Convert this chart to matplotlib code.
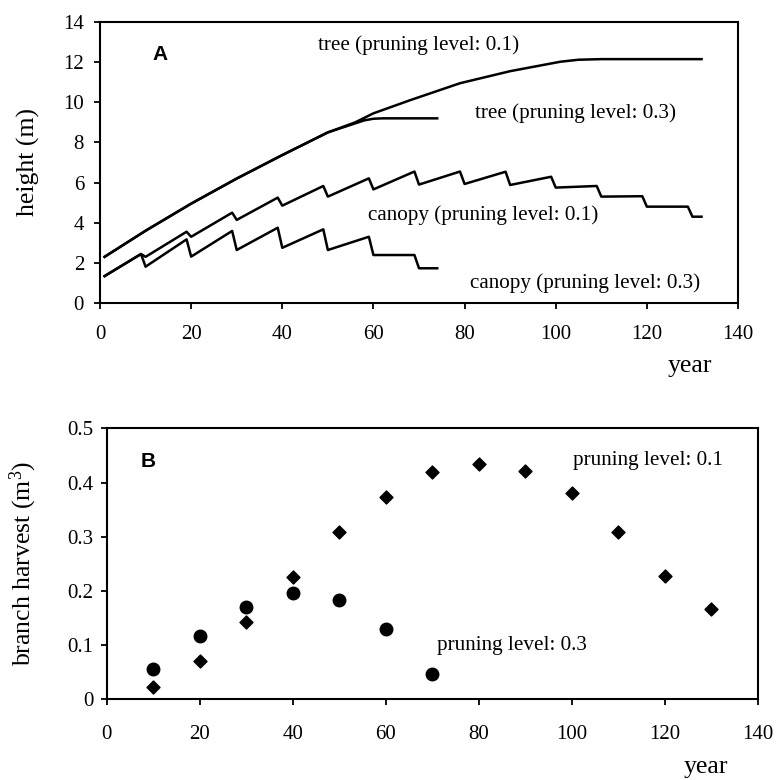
import matplotlib
matplotlib.use("Agg")
import matplotlib.pyplot as plt

plt.rcParams['font.family'] = ['Liberation Serif', 'DejaVu Serif']
plt.rcParams['mathtext.fontset'] = 'custom'
plt.rcParams['mathtext.rm'] = 'Liberation Serif'
plt.rcParams['mathtext.it'] = 'Liberation Serif:italic'

# ---- Panel A data ----
tree01_x = [1, 10, 20, 30, 40, 50, 56, 60, 68, 79, 90, 101, 105, 110, 132]
tree01_y = [2.3, 3.6, 4.95, 6.2, 7.37, 8.5, 9.0, 9.45, 10.1, 10.95, 11.55, 12.02, 12.12, 12.15, 12.15]

tree03_x = [1, 10, 20, 30, 40, 50, 56, 58, 60, 62, 74]
tree03_y = [2.3, 3.6, 4.95, 6.2, 7.37, 8.5, 8.95, 9.1, 9.18, 9.2, 9.2]

canopy01_x = [1, 9, 10, 19, 20, 29, 30, 39, 40, 49, 50, 59, 60, 69, 70, 79, 80,
              89, 90, 99, 100, 109, 110, 119, 120, 129, 130, 132]
canopy01_y = [1.34, 2.44, 2.3, 3.55, 3.3, 4.5, 4.14, 5.25, 4.85, 5.83, 5.3, 6.21, 5.66,
              6.55, 5.9, 6.55, 5.93, 6.54, 5.88, 6.29, 5.75, 5.83, 5.3, 5.32, 4.8,
              4.8, 4.3, 4.3]

canopy03_x = [1, 9, 10, 19, 20, 29, 30, 39, 40, 49, 50, 59, 60, 69, 70, 74]
canopy03_y = [1.34, 2.44, 1.81, 3.17, 2.31, 3.59, 2.64, 3.75, 2.75, 3.67, 2.64, 3.3,
              2.39, 2.39, 1.73, 1.73]

# ---- Panel B data ----
harvest01_x = [10, 20, 30, 40, 50, 60, 70, 80, 90, 100, 110, 120, 130]
harvest01_y = [0.023, 0.070, 0.142, 0.225, 0.308, 0.374, 0.419, 0.435, 0.422, 0.380,
               0.309, 0.228, 0.166]

harvest03_x = [10, 20, 30, 40, 50, 60, 70]
harvest03_y = [0.055, 0.117, 0.170, 0.196, 0.183, 0.129, 0.047]

xticks = [0, 20, 40, 60, 80, 100, 120, 140]
yticksA = [0, 2, 4, 6, 8, 10, 12, 14]
yticksB = [0, 0.1, 0.2, 0.3, 0.4, 0.5]
yticklabelsB = ['0', '0.1', '0.2', '0.3', '0.4', '0.5']

fig = plt.figure(figsize=(7.76, 7.80), dpi=100)

tick_fs = 15
ann_fs = 15.2
lab_fs = 18.5

def style(ax):
    for s in ax.spines.values():
        s.set_linewidth(1.5)
        s.set_color('black')
    ax.tick_params(direction='out', length=4.5, width=1.3, labelsize=tick_fs,
                   top=False, right=False)

# Panel A
axA = fig.add_axes([100/776, (780-303)/780, 638/776, 281/780])
lw = 1.8
axA.plot(tree01_x, tree01_y, color='black', lw=lw)
axA.plot(tree03_x, tree03_y, color='black', lw=lw)
axA.plot(canopy01_x, canopy01_y, color='black', lw=lw)
axA.plot(canopy03_x, canopy03_y, color='black', lw=lw)
axA.set_xlim(0, 140)
axA.set_ylim(0, 14)
axA.set_xticks(xticks)
axA.set_yticks(yticksA)
style(axA)
axA.tick_params(axis='x', pad=11)
axA.tick_params(axis='y', pad=7)
axA.set_ylabel('height (m)', fontsize=lab_fs)
axA.yaxis.set_label_coords(-0.094, 0.5)
axA.text(47.8, 12.85, 'tree (pruning level: 0.1)', fontsize=ann_fs, va='center', ha='left')
axA.text(82.3, 9.47, 'tree (pruning level: 0.3)', fontsize=ann_fs, va='center', ha='left')
axA.text(58.8, 4.38, 'canopy (pruning level: 0.1)', fontsize=ann_fs, va='center', ha='left')
axA.text(81.2, 1.0, 'canopy (pruning level: 0.3)', fontsize=ann_fs, va='center', ha='left')
axA.text(11.6, 12.4, 'A', fontsize=15, fontweight='bold', family='Liberation Sans',
         va='center', ha='left')
fig.text(712/776, 1 - 366/780, 'year', fontsize=lab_fs, ha='right', va='center')

# Panel B
axB = fig.add_axes([106.7/776, (780-699.3)/780, 651/776, 271/780])
axB.scatter(harvest01_x, harvest01_y, marker='D', s=(6.6)**2, color='black', zorder=3)
axB.scatter(harvest03_x, harvest03_y, marker='o', s=(9.0)**2, color='black', zorder=3)
axB.set_xlim(0, 140)
axB.set_ylim(0, 0.5)
axB.set_xticks(xticks)
axB.set_yticks(yticksB)
axB.set_yticklabels(yticklabelsB)
style(axB)
axB.tick_params(axis='x', pad=14)
axB.tick_params(axis='y', pad=5)
axB.set_ylabel('branch harvest (m$^3$)', fontsize=lab_fs)
axB.yaxis.set_label_coords(-0.104, 0.5)
axB.text(100.3, 0.44, 'pruning level: 0.1', fontsize=ann_fs, va='center', ha='left')
axB.text(71.0, 0.099, 'pruning level: 0.3', fontsize=ann_fs, va='center', ha='left')
axB.text(7.2, 0.438, 'B', fontsize=15, fontweight='bold', family='Liberation Sans',
         va='center', ha='left')
fig.text(728/776, 1 - 767/780, 'year', fontsize=lab_fs, ha='right', va='center')

fig.savefig('out.png', dpi=100)
